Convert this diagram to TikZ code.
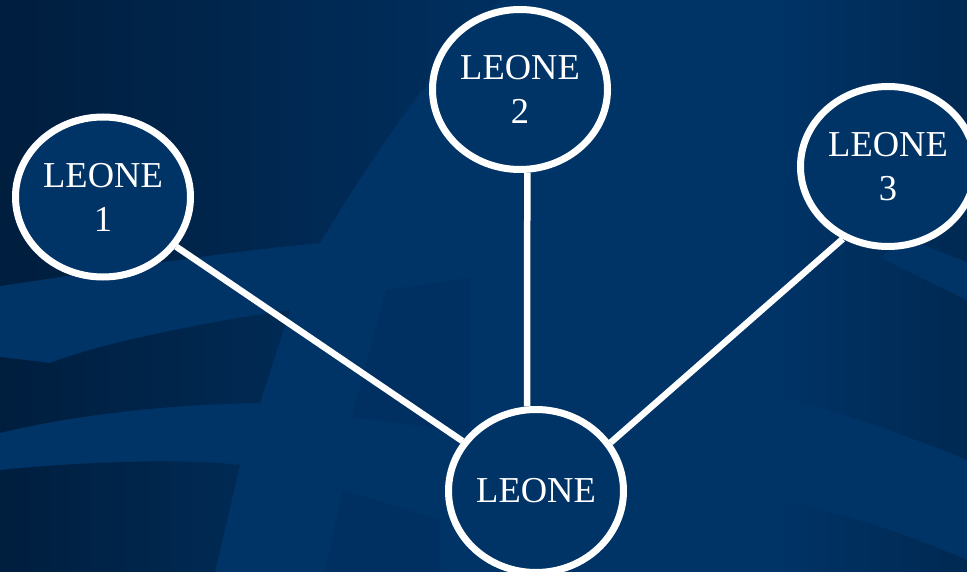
\documentclass[tikz,border=0pt]{standalone}
\usepackage{fontspec}
\setmainfont{Liberation Serif}
\usetikzlibrary{shapes.geometric}
\definecolor{bgmain}{RGB}{0,51,102}
\definecolor{bgdark}{RGB}{0,30,62}
\definecolor{bgmid}{RGB}{0,47,95}
\definecolor{bgband}{RGB}{0,42,84}
\definecolor{bgright}{RGB}{0,41,82}
\definecolor{bgsoft}{RGB}{0,48,97}
\begin{document}
\begin{tikzpicture}[x=1pt,y=-1pt,
  leone/.style={ellipse, draw=white, line width=7pt, fill=bgmain, text=white,
    minimum width=175pt, minimum height=160pt, inner sep=0pt, align=center,
    font=\fontsize{36.5}{44}\selectfont},
  link/.style={draw=white, line width=6.5pt}]
\useasboundingbox (0,0) rectangle (967,572);
% background
\fill[bgmain] (0,0) rectangle (967,572);
\shade[left color=bgmain, right color=bgright] (780,0) rectangle (967,572);
% light bands on the right
\fill[bgmain] (700,385) .. controls (790,393) and (880,425) .. (967,460)
  -- (967,560) .. controls (880,522) and (780,492) .. (630,478) -- (630,385) -- cycle;
\fill[bgmain] (905,238) -- (967,262) -- (967,300) -- (880,258) -- cycle;
% dark shapes on the left
\shade[left color=bgdark, right color=bgmid]
  (0,0) -- (500,0) .. controls (430,70) and (370,160) .. (320,243)
  .. controls (240,250) and (120,268) .. (0,286) -- cycle;
\shade[left color=bgdark, right color=bgband]
  (0,357) -- (50,363) .. controls (110,340) and (220,320) .. (290,310)
  -- (260,403) .. controls (150,405) and (60,418) .. (0,433) -- cycle;
\shade[left color=bgdark, right color=bgband]
  (0,470) .. controls (80,462) and (180,458) .. (240,465) -- (215,572) -- (0,572) -- cycle;
\fill[bgsoft] (386,290) -- (470,278) -- (470,432) -- (352,417) -- cycle;
\fill[bgsoft] (343,490) -- (440,520) -- (440,572) -- (325,572) -- cycle;
% nodes
\node[leone] (n1) at (103,197) {LEONE\\1};
\node[leone] (n2) at (520,89.5) {LEONE\\2};
\node[leone] (n3) at (888,166.5) {LEONE\\3};
\node[leone, minimum height=163pt] (b) at (536,491) {LEONE};
% connectors
\draw[link] (n1) -- (b);
\draw[link] (n2.275) -- (b.96);
\draw[link] (n3.238) -- (b.33);
\end{tikzpicture}
\end{document}
